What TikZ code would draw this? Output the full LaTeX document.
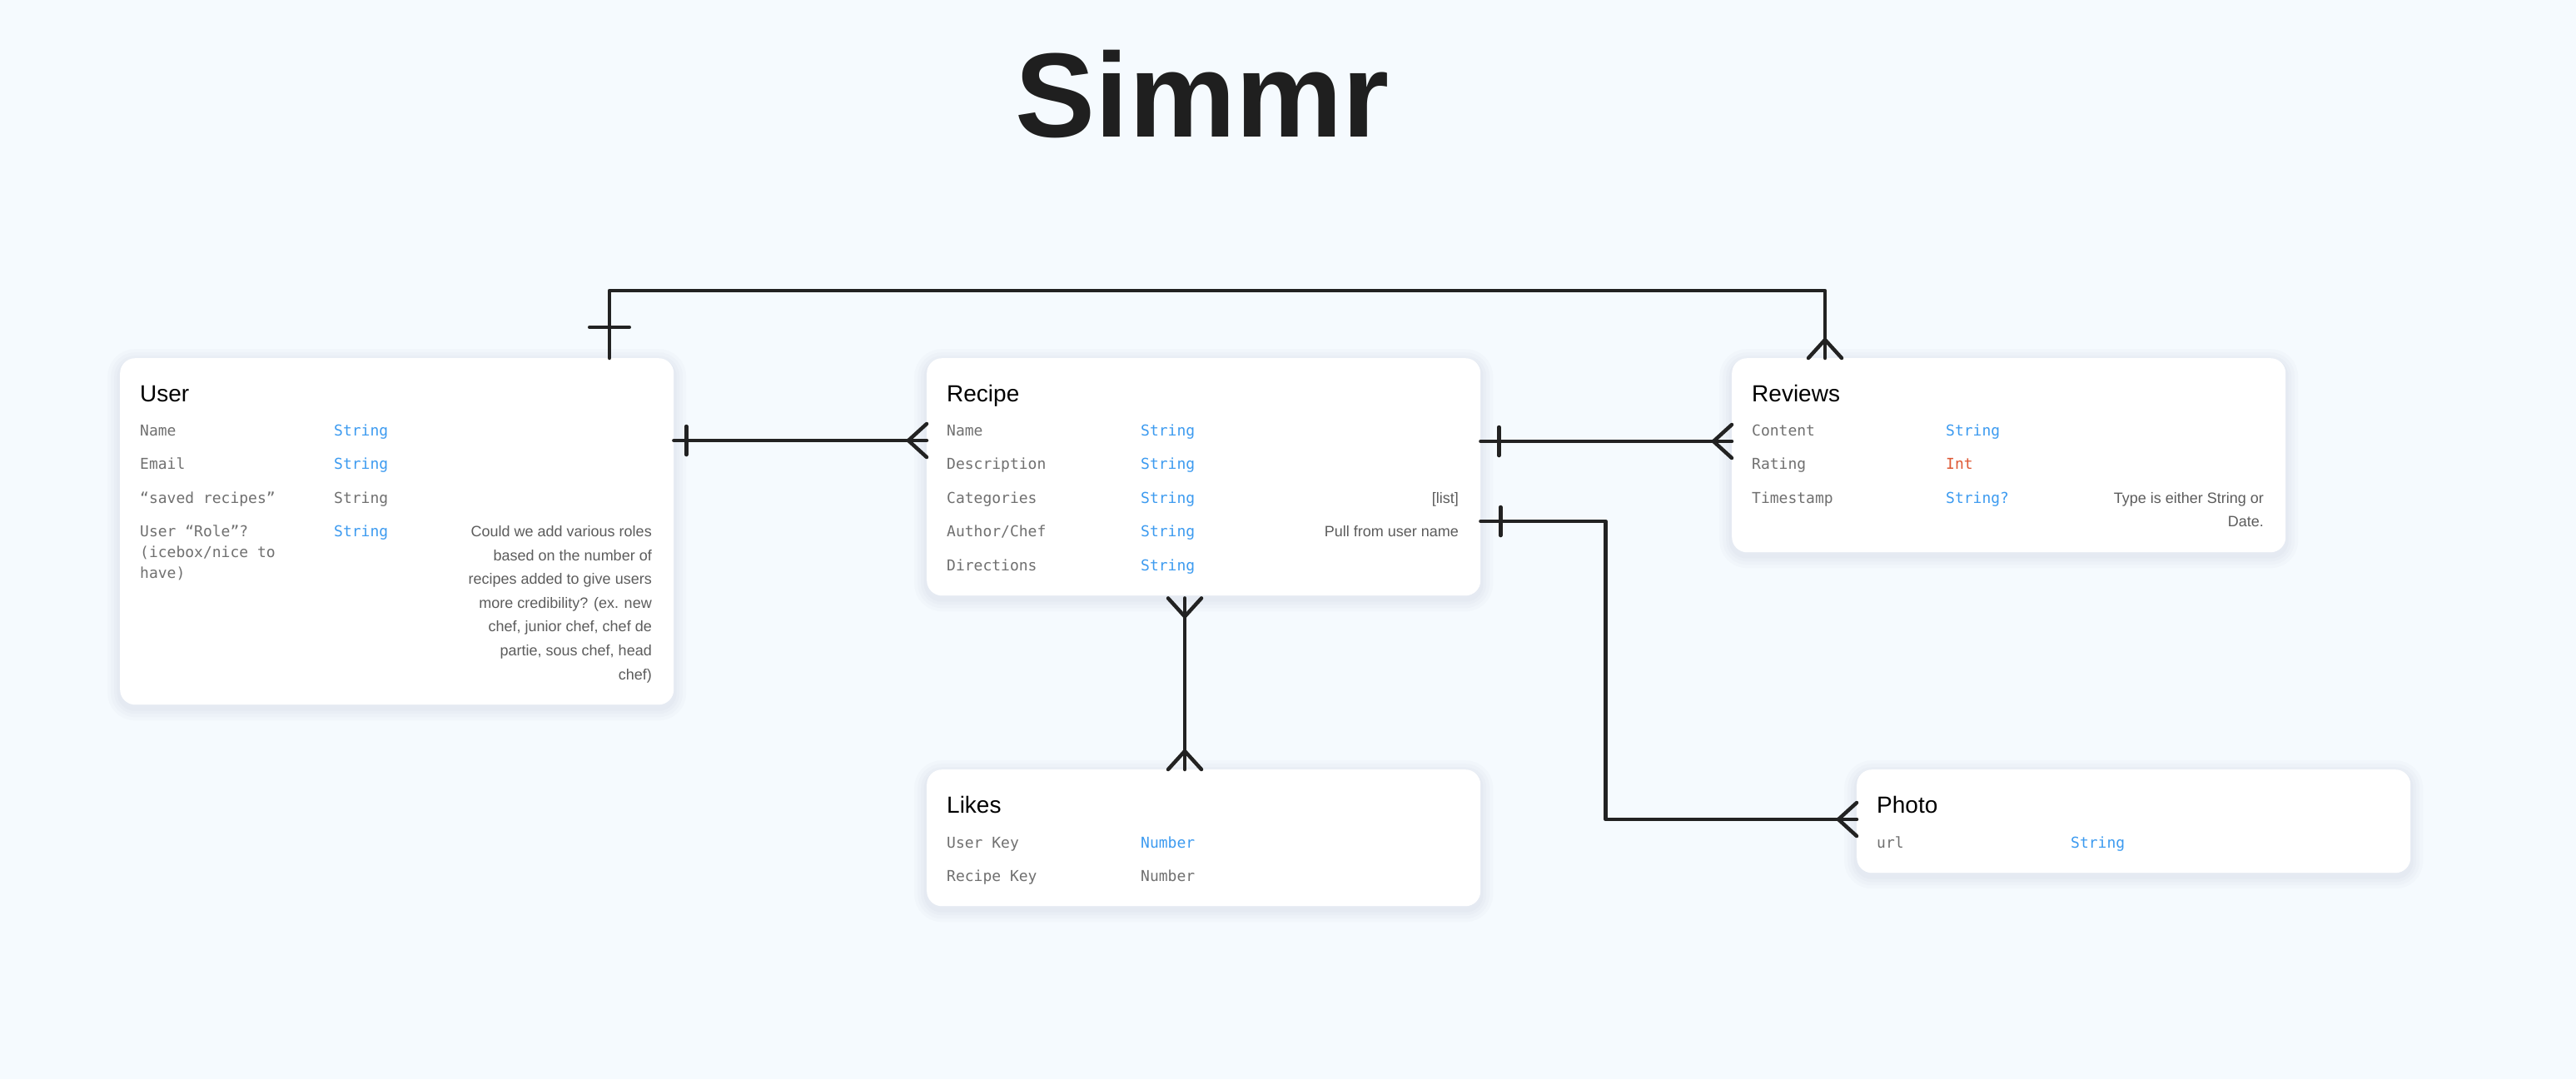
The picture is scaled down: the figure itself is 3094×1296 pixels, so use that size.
\documentclass[tikz,border=0pt]{standalone}
\usepackage{fontspec}
\setmainfont{Liberation Sans}
\setmonofont{DejaVu Sans Mono}
\usetikzlibrary{calc}

\definecolor{bgblue}{RGB}{245,250,254}
\definecolor{typeblue}{RGB}{61,155,240}
\definecolor{typered}{RGB}{222,88,52}
\definecolor{fieldgray}{RGB}{112,112,112}
\definecolor{notegray}{RGB}{92,92,92}
\definecolor{linegray}{RGB}{34,34,34}
\definecolor{titleblack}{RGB}{31,31,31}
\definecolor{shadowblue}{RGB}{60,80,110}

\tikzstyle{glow} = [draw=shadowblue, draw opacity=0.018, transform canvas={yshift=-4pt}]
\tikzstyle{entity} = [fill=white, rounded corners=18pt, inner sep=0pt, anchor=north west,
  minimum width=665pt,
  preaction={glow, line width=30pt}, preaction={glow, line width=22pt},
  preaction={glow, line width=14pt}, preaction={glow, line width=7pt}]
\tikzstyle{header} = [font=\fontsize{28}{32}\selectfont, text=black, anchor=base west, inner sep=0pt]
\tikzstyle{field} = [font=\ttfamily\fontsize{18}{25}\selectfont, text=fieldgray, anchor=base west, inner sep=0pt]
\tikzstyle{typ} = [field, text=typeblue]
\tikzstyle{note} = [font=\fontsize{18}{28.6}\selectfont, text=notegray, anchor=base east, inner sep=0pt]
\tikzstyle{conn} = [line width=4.5pt, draw=linegray, line cap=round, line join=round]

\tikzset{
  crowfoot/.pic={\draw[conn] (0,-20) -- (22,0) -- (0,20);},
  onebar/.pic={\draw[conn] (0,-17) -- (0,17);}
}

\newcommand{\leftlines}[1]{\begin{tabular}[t]{@{}l@{}}#1\end{tabular}}
\newcommand{\rightlines}[1]{\begin{tabular}[t]{@{}r@{}}#1\end{tabular}}

\begin{document}
\begin{tikzpicture}[x=1pt, y=-1pt]

\fill[bgblue] (0,0) rectangle (3094,1296);
\useasboundingbox (0,0) rectangle (3094,1296);

\node[font=\bfseries\fontsize{144}{160}\selectfont, text=titleblack, anchor=base, inner sep=0pt] (title) at (1444,164) {Simmr};

% tables
\node[entity, minimum height=416pt] (user) at (144,430) {};
\node[entity, minimum height=285pt] (recipe) at (1113,430) {};
\node[entity, minimum height=233pt] (reviews) at (2080,430) {};
\node[entity, minimum height=164pt] (likes) at (1113,924) {};
\node[entity, minimum height=124pt] (photo) at (2230,924) {};

% user
\node[header] (user-h) at (168,482) {User};
\node[field] (user-name) at (168,523) {Name};
\node[typ] (user-name-t) at (401,523) {String};
\node[field] (user-email) at (168,563.5) {Email};
\node[typ] (user-email-t) at (401,563.5) {String};
\node[field] (user-saved) at (168,604) {“saved recipes”};
\node[field] (user-saved-t) at (401,604) {String};
\node[field] (user-role) at (168,644.5) {\leftlines{User “Role”?\\(icebox/nice to\\have)}};
\node[typ] (user-role-t) at (401,644.5) {String};
\node[note] (user-role-n) at (783,644.5) {\rightlines{Could we add various roles\\based on the number of\\recipes added to give users\\more credibility? (ex. new\\chef, junior chef, chef de\\partie, sous chef, head\\chef)}};

% recipe
\node[header] (recipe-h) at (1137,482) {Recipe};
\node[field] (recipe-name) at (1137,523) {Name};
\node[typ] (recipe-name-t) at (1370,523) {String};
\node[field] (recipe-desc) at (1137,563.5) {Description};
\node[typ] (recipe-desc-t) at (1370,563.5) {String};
\node[field] (recipe-cat) at (1137,604) {Categories};
\node[typ] (recipe-cat-t) at (1370,604) {String};
\node[note] (recipe-cat-n) at (1752,604) {[list]};
\node[field] (recipe-author) at (1137,644.5) {Author/Chef};
\node[typ] (recipe-author-t) at (1370,644.5) {String};
\node[note] (recipe-author-n) at (1752,644.5) {Pull from user name};
\node[field] (recipe-dir) at (1137,685) {Directions};
\node[typ] (recipe-dir-t) at (1370,685) {String};

% reviews
\node[header] (reviews-h) at (2104,482) {Reviews};
\node[field] (reviews-content) at (2104,523) {Content};
\node[typ] (reviews-content-t) at (2337,523) {String};
\node[field] (reviews-rating) at (2104,563.5) {Rating};
\node[typ, text=typered] (reviews-rating-t) at (2337,563.5) {Int};
\node[field] (reviews-time) at (2104,604) {Timestamp};
\node[typ] (reviews-time-t) at (2337,604) {String?};
\node[note] (reviews-time-n) at (2719,604) {\rightlines{Type is either String or\\Date.}};

% likes
\node[header] (likes-h) at (1137,976) {Likes};
\node[field] (likes-user) at (1137,1018) {User Key};
\node[typ] (likes-user-t) at (1370,1018) {Number};
\node[field] (likes-recipe) at (1137,1058.5) {Recipe Key};
\node[field] (likes-recipe-t) at (1370,1058.5) {Number};

% photo
\node[header] (photo-h) at (2254,976) {Photo};
\node[field] (photo-url) at (2254,1018) {url};
\node[typ] (photo-url-t) at (2487,1018) {String};

% relations
\draw[conn] ([xshift=588pt]user.north west) -- ++(0,-81) -| ([xshift=112pt]reviews.north west);
\pic[rotate=90, scale=1.4] at ([xshift=588pt, yshift=37pt]user.north west) {onebar};
\pic[rotate=90] at ([xshift=112pt]reviews.north west) {crowfoot};

\draw[conn] ([yshift=-99pt]user.north east) -- ([yshift=-99pt]recipe.north west);
\pic at ([xshift=15pt, yshift=-99pt]user.north east) {onebar};
\pic[rotate=180] at ([yshift=-99pt]recipe.north west) {crowfoot};

\draw[conn] ([yshift=-100pt]recipe.north east) -- ([yshift=-100pt]reviews.north west);
\pic at ([xshift=22pt, yshift=-100pt]recipe.north east) {onebar};
\pic[rotate=180] at ([yshift=-100pt]reviews.north west) {crowfoot};

\draw[conn] ([yshift=-196pt]recipe.north east) -- ++(150,0) |- ([yshift=-60pt]photo.north west);
\pic at ([xshift=24pt, yshift=-196pt]recipe.north east) {onebar};
\pic[rotate=180] at ([yshift=-60pt]photo.north west) {crowfoot};

\draw[conn] ([xshift=310pt, yshift=-3pt]recipe.south west) -- ([xshift=310pt]likes.north west);
\pic[rotate=-90] at ([xshift=310pt, yshift=-3pt]recipe.south west) {crowfoot};
\pic[rotate=90] at ([xshift=310pt]likes.north west) {crowfoot};

\end{tikzpicture}
\end{document}
